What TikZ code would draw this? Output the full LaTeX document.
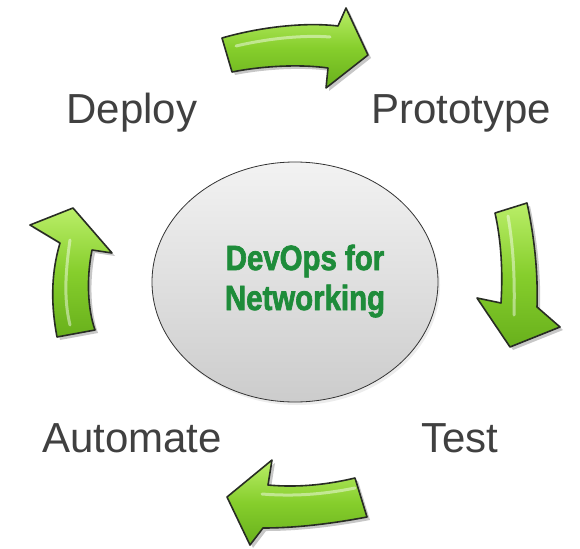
\documentclass[tikz,border=0pt]{standalone}
\usepackage{fontspec}
\setmainfont{Liberation Sans}
\usetikzlibrary{shadows,shapes.geometric}
\definecolor{labelgray}{RGB}{64,64,64}
\definecolor{titlegreen}{RGB}{30,140,58}
\definecolor{limegreen}{RGB}{134,206,44}
\definecolor{limelight}{RGB}{186,238,104}
\definecolor{limedark}{RGB}{104,176,28}
\definecolor{edgedark}{RGB}{40,44,36}
\tikzset{
  cyclearrow/.style={draw=edgedark, line width=1.6pt, line join=round,
    top color=limelight, bottom color=limedark, middle color=limegreen,
    drop shadow={opacity=0.22, shadow xshift=3pt, shadow yshift=-3pt, fill=black}},
  gloss/.style={draw=white, line width=3pt, opacity=0.45, line cap=round},
  stagelabel/.style={text=labelgray, font=\fontsize{42}{46}\selectfont},
  hub/.style={ellipse, draw=black!80, line width=0.8pt,
    top color=white!95!black, bottom color=black!20,
    minimum width=286pt, minimum height=240pt, inner sep=0pt,
    drop shadow={opacity=0.15, shadow xshift=2pt, shadow yshift=-3pt}},
  hubtitle/.style={text=titlegreen, inner sep=0pt,
    font=\addfontfeature{FakeBold=2.2}\bfseries\fontsize{35}{40}\selectfont}
}
\begin{document}
\begin{tikzpicture}[x=1pt, y=-1pt]
  \useasboundingbox (0,0) rectangle (580,548);
  \fill[white] (0,0) rectangle (580,548);

  % central hub and its title
  \node[hub] (hub) at (295,282) {};
  \node[hubtitle] (title) at (305,282)
    {\scalebox{0.84}[1]{\begin{tabular}{@{}c@{}}DevOps for\\Networking\end{tabular}}};

  % stage labels
  \node[stagelabel] (deploy) at (132,113) {Deploy};
  \node[stagelabel] (proto) at (461,113) {Prototype};
  \node[stagelabel] (auto) at (132,438) {Automate};
  \node[stagelabel] (test) at (460,438) {Test};

  % top arrow: Deploy -> Prototype
  \path[cyclearrow] (222,38) .. controls (260,27) and (305,22) .. (338,26)
    -- (346,8) -- (368,55) -- (326,88) -- (328,68)
    .. controls (300,64) and (262,66) .. (232,72) -- cycle;
  \draw[gloss] (236,46) .. controls (270,38) and (305,35) .. (330,37);

  % right arrow: Prototype -> Test
  \path[cyclearrow] (495,213) -- (527,203)
    .. controls (535,240) and (538,275) .. (537,307)
    -- (560,327) -- (510,347) -- (477,298) -- (501,303)
    .. controls (503,270) and (501,240) .. (495,213) -- cycle;
  \draw[gloss] (508,216) .. controls (513,245) and (515,275) .. (514,315);

  % bottom arrow: Test -> Automate
  \path[cyclearrow] (367,517) .. controls (330,524) and (295,528) .. (263,528)
    -- (250,545) -- (227,497) -- (272,460) -- (268,485)
    .. controls (300,488) and (330,484) .. (355,478) -- cycle;
  \draw[gloss] (262,494) .. controls (300,497) and (330,493) .. (355,488);

  % left arrow: Automate -> Deploy
  \path[cyclearrow] (57,337) .. controls (50,300) and (52,270) .. (60,243)
    -- (30,225) -- (73,208) -- (112,253) -- (92,250)
    .. controls (86,280) and (88,310) .. (95,330) -- cycle;
  \draw[gloss] (70,325) .. controls (64,300) and (65,275) .. (70,240);
\end{tikzpicture}
\end{document}
